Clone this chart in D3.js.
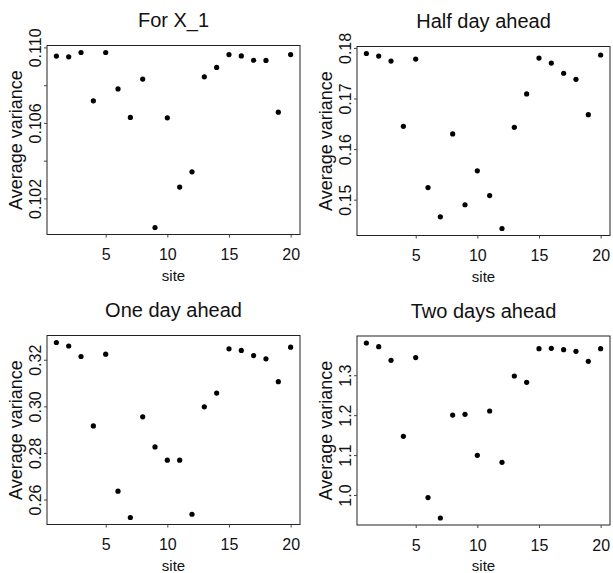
<!DOCTYPE html>
<html>
<head>
<meta charset="utf-8">
<script src="https://cdn.jsdelivr.net/npm/d3@7"></script>
<style>
  html, body { margin: 0; padding: 0; background: #fff; }
  svg { display: block; }
  text { font-family: "Liberation Sans", Arial, Helvetica, sans-serif; fill: #111; }
</style>
</head>
<body>
<svg id="chart" width="613" height="573"></svg>
<script>
// ---- data ----
const sites = [1, 2, 3, 4, 5, 6, 7, 8, 9, 10, 11, 12, 13, 14, 15, 16, 17, 18, 19, 20];
const xTicks = [5, 10, 15, 20];

const titles = ["For X_1", "Half day ahead", "One day ahead", "Two days ahead"];

const varX1 = [0.10954, 0.10950, 0.10973, 0.10717, 0.10973, 0.10780, 0.10629, 0.10832, 0.10046, 0.10627,
               0.10260, 0.10341, 0.10844, 0.10894, 0.10962, 0.10955, 0.10932, 0.10931, 0.10657, 0.10962];
const varHalfDay = [0.1789, 0.1784, 0.1774, 0.1645, 0.1778, 0.1524, 0.1466, 0.1630, 0.1490, 0.1557,
                    0.1508, 0.1443, 0.1643, 0.1709, 0.1780, 0.1770, 0.1750, 0.1738, 0.1668, 0.1786];
const varOneDay = [0.3274, 0.3259, 0.3214, 0.2916, 0.3224, 0.2636, 0.2523, 0.2955, 0.2826, 0.2769,
                   0.2769, 0.2537, 0.2998, 0.3057, 0.3247, 0.3240, 0.3218, 0.3204, 0.3106, 0.3254];
const varTwoDays = [1.3807, 1.3716, 1.3373, 1.1470, 1.3441, 0.9935, 0.9424, 1.2003, 1.2021, 1.0994,
                    1.2104, 1.0819, 1.2980, 1.2822, 1.3666, 1.3674, 1.3641, 1.3599, 1.3348, 1.3666];

const yTicksX1 = [0.102, 0.104, 0.106, 0.108, 0.110];
const yLabelsX1 = ["0.102", "", "0.106", "", "0.110"];
const yTicksHalf = [0.15, 0.16, 0.17, 0.18];
const yLabelsHalf = ["0.15", "0.16", "0.17", "0.18"];
const yTicksOne = [0.26, 0.28, 0.30, 0.32];
const yLabelsOne = ["0.26", "0.28", "0.30", "0.32"];
const yTicksTwo = [1.0, 1.1, 1.2, 1.3];
const yLabelsTwo = ["1.0", "1.1", "1.2", "1.3"];

const xTitle = "site";
const yTitle = "Average variance";

// ---- layout ----
const panels = [
  { title: titles[0], values: varX1,      ticks: yTicksX1,   labels: yLabelsX1,   left: 47,  top: 45.5 },
  { title: titles[1], values: varHalfDay, ticks: yTicksHalf, labels: yLabelsHalf, left: 357, top: 46.5 },
  { title: titles[2], values: varOneDay,  ticks: yTicksOne,  labels: yLabelsOne,  left: 47,  top: 335.5 },
  { title: titles[3], values: varTwoDays, ticks: yTicksTwo,  labels: yLabelsTwo,  left: 357, top: 336 }
];
const W = 253, H = 189;

function pad(ext) {
  const r = ext[1] - ext[0];
  return [ext[0] - 0.04 * r, ext[1] + 0.04 * r];
}

const svg = d3.select("#chart");
svg.append("rect").attr("width", 613).attr("height", 573).attr("fill", "#fff");

panels.forEach(p => {
  const g = svg.append("g");
  const x = d3.scaleLinear().domain(pad(d3.extent(sites))).range([p.left, p.left + W]);
  const y = d3.scaleLinear().domain(pad(d3.extent(p.values))).range([p.top + H, p.top]);

  // box
  g.append("rect")
    .attr("x", p.left).attr("y", p.top).attr("width", W).attr("height", H)
    .attr("fill", "none").attr("stroke", "#222").attr("stroke-width", 1);

  // y axis
  const ya = g.append("g").attr("transform", `translate(${p.left},0)`)
    .call(d3.axisLeft(y).tickValues(p.ticks).tickSize(3).tickFormat((d, i) => p.labels[i]));
  ya.select(".domain").remove();
  ya.selectAll(".tick line").attr("stroke", "#444");
  ya.selectAll(".tick text")
    .attr("transform", "rotate(-90)")
    .attr("x", 0).attr("y", -6).attr("dy", 0)
    .attr("text-anchor", "middle")
    .style("font-size", "16px")
    .attr("fill", "#111");

  // x axis
  const xa = g.append("g").attr("transform", `translate(0,${p.top + H})`)
    .call(d3.axisBottom(x).tickValues(xTicks).tickSize(3).tickFormat(d3.format("d")));
  xa.select(".domain").remove();
  xa.selectAll(".tick line").attr("stroke", "#444");
  xa.selectAll(".tick text")
    .attr("y", 25.5).attr("dy", 0)
    .style("font-size", "16px")
    .attr("fill", "#111");

  // points
  g.selectAll("circle").data(sites.map((s, i) => ({ s, v: p.values[i] })))
    .join("circle")
    .attr("cx", d => x(d.s)).attr("cy", d => y(d.v))
    .attr("r", 2.6).attr("fill", "#000");

  // title
  g.append("text")
    .attr("x", p.left + W / 2).attr("y", p.top - 18.5)
    .attr("text-anchor", "middle")
    .style("font-size", "20px")
    .text(p.title);

  // x title
  g.append("text")
    .attr("x", p.left + W / 2).attr("y", p.top + H + 46)
    .attr("text-anchor", "middle")
    .style("font-size", "15px")
    .text(xTitle);

  // y title
  g.append("text")
    .attr("transform", `translate(${p.left - 25},${p.top + H / 2}) rotate(-90)`)
    .attr("text-anchor", "middle")
    .style("font-size", "18px")
    .text(yTitle);
});
</script>
</body>
</html>
